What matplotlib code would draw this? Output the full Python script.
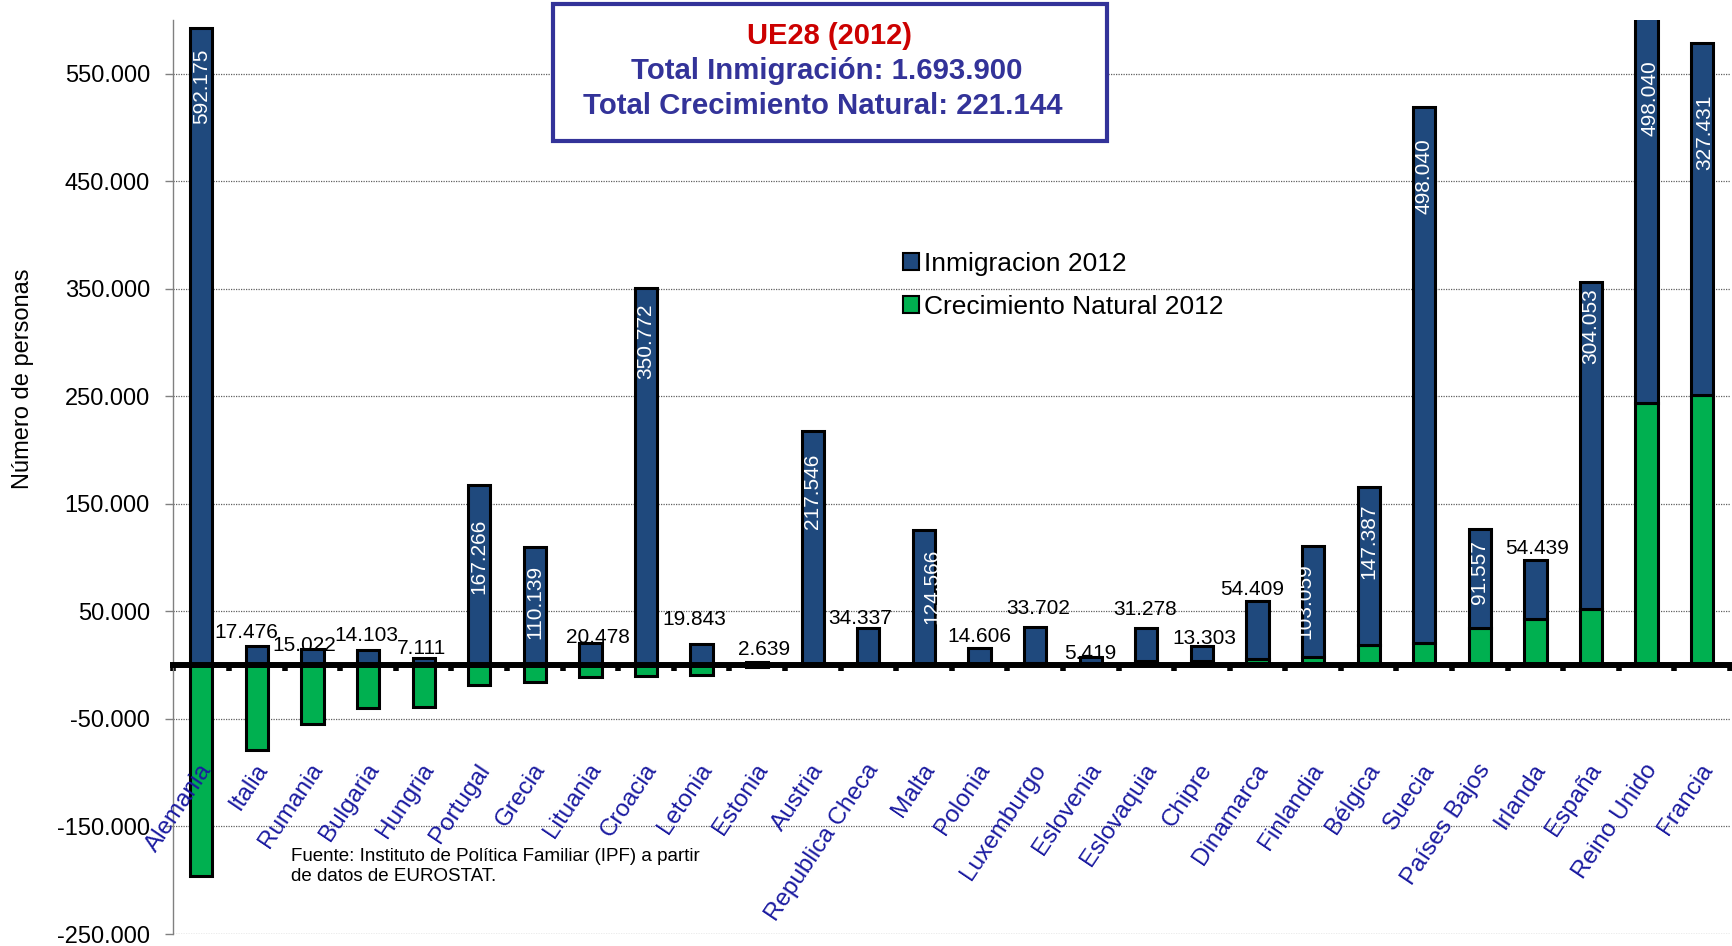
import numpy as np
import matplotlib
matplotlib.use("Agg")
import matplotlib.pyplot as plt
import matplotlib.transforms as mtransforms
from matplotlib.patches import Rectangle, Patch

plt.rcParams['font.family'] = ['Liberation Sans', 'DejaVu Sans']

# ---------------- data ----------------
paises = ["Alemania", "Italia", "Rumania", "Bulgaria", "Hungria", "Portugal", "Grecia",
          "Lituania", "Croacia", "Letonia", "Estonia", "Austria", "Republica Checa",
          "Malta", "Polonia", "Luxemburgo", "Eslovenia", "Eslovaquia", "Chipre",
          "Dinamarca", "Finlandia", "Bélgica", "Suecia", "Países Bajos", "Irlanda",
          "España", "Reino Unido", "Francia"]
inmigracion = [592175, 17476, 15022, 14103, 7111, 167266, 110139, 20478, 350772,
               19843, 2639, 217546, 34337, 124566, 14606, 33702, 5419, 31278,
               13303, 54409, 103059, 147387, 498040, 91557, 54439, 304053,
               498040, 327431]
crecimiento = [-196000, -79000, -55000, -40000, -39000, -18000, -16000, -11000,
               -10000, -9000, -1500, 500, 400, 1000, 1500, 2000, 2000, 3500,
               4300, 5400, 7700, 18600, 20800, 35000, 43400, 52000, 243400,
               251000]
yticks = [-250000, -150000, -50000, 50000, 150000, 250000, 350000, 450000, 550000]
titulo = ["UE28 (2012)", "Total Inmigración: 1.693.900",
          "Total Crecimiento Natural: 221.144"]
series = ["Inmigracion 2012", "Crecimiento Natural 2012"]
fuente = "Fuente: Instituto de Política Familiar (IPF) a partir\nde datos de EUROSTAT."

# ---------------- styles ----------------
BLUE = "#1F497D"
GREEN = "#00B050"
CAT = "#1A1AA0"
NAVY = "#333399"
W, H = 1733, 946

# label nudges (pixels): horizontal labels -> (dx, dy above top); vertical -> (dx, dy below top)
h_nudge = {"Italia": (-11, 14), "Rumania": (-8, 4), "Bulgaria": (-2, 15), "Hungria": (-2, 9),
           "Lituania": (8, 6), "Letonia": (-7, 24), "Estonia": (7, 13),
           "Republica Checa": (-8, 9), "Polonia": (0, 11), "Luxemburgo": (3, 18),
           "Eslovenia": (0, 4), "Eslovaquia": (-1, 18), "Chipre": (2, 8),
           "Dinamarca": (-5, 11), "Irlanda": (2, 11)}
v_nudge = {"Alemania": (0, 20), "Portugal": (0, 33), "Grecia": (0, 18), "Croacia": (0, 16),
           "Austria": (0, 23), "Malta": (8, 18), "Finlandia": (-8, 17), "Bélgica": (0, 17),
           "Suecia": (0, 31), "Países Bajos": (0, 11), "España": (0, 6),
           "Reino Unido": (3, 40), "Francia": (3, 51)}

fig = plt.figure(figsize=(W / 100, H / 100), dpi=100)
ax = fig.add_axes([173.5 / W, 12 / H, (1730 - 173.5) / W, 914 / H])

x = np.arange(len(paises))
inm = np.array(inmigracion)
cre = np.array(crecimiento)
base = np.maximum(cre, 0)

ax.bar(x, cre, width=0.40, color=GREEN, edgecolor="black", linewidth=2.2, zorder=2)
ax.bar(x, inm, bottom=base, width=0.40, color=BLUE, edgecolor="black", linewidth=2.2, zorder=2)

ax.set_xlim(-0.5, len(paises) - 0.5)
ax.set_ylim(-250000, 600000)
ymax = 600000

# axes styling
for s in ("top", "right"):
    ax.spines[s].set_visible(False)
ax.spines["left"].set_color("#808080")
ax.spines["left"].set_linewidth(1.0)
ax.spines["bottom"].set_position(("data", 0))
ax.spines["bottom"].set_linewidth(4.3)
ax.spines["bottom"].set_zorder(3)

ax.set_yticks(yticks)
ax.set_yticklabels([f"{v:,}".replace(",", ".") for v in yticks])
ax.tick_params(axis="y", direction="out", length=6, width=1, color="#808080",
               labelsize=17, pad=11)
ax.set_xticks(np.arange(-0.5, len(paises), 1.0))
ax.tick_params(axis="x", direction="out", length=4, width=4, color="black",
               labelbottom=False)
ax.yaxis.grid(True, linestyle=(0, (1, 1)), color="#606060", linewidth=0.9, zorder=0)
ax.set_axisbelow(True)

# value labels
for i, name in enumerate(paises):
    top = min(base[i] + inm[i], ymax)
    txt = f"{inm[i]:,}".replace(",", ".")
    if name in v_nudge:
        dx, dy = v_nudge[name]
        ax.annotate(txt, xy=(i, top), xytext=(dx, -dy), textcoords="offset pixels",
                    rotation=90, ha="center", va="top", color="white", fontsize=15,
                    zorder=5)
    else:
        dx, dy = h_nudge.get(name, (0, 12))
        ax.annotate(txt, xy=(i, top), xytext=(dx, dy), textcoords="offset pixels",
                    ha="center", va="center", color="black", fontsize=15, zorder=5)

# category labels
trans = mtransforms.blended_transform_factory(ax.transData, ax.transAxes)
for i, name in enumerate(paises):
    ax.text(i + 0.11, 0.184, name, rotation=56, rotation_mode="anchor", ha="right",
            va="center", transform=trans, color=CAT, fontsize=17.5, zorder=6)

# y label
fig.text(23 / W, 1 - 379 / H, "Número de personas", rotation=90, ha="center",
         va="center", fontsize=17)

# title box
fig.patches.append(Rectangle((553 / W, 1 - 141 / H), 554 / W, 137 / H,
                             transform=fig.transFigure, facecolor="white",
                             edgecolor=NAVY, linewidth=3.0, zorder=10))
fig.text(830 / W, 1 - 44 / H, titulo[0], ha="center", va="baseline", color="#CC0000",
         fontsize=21, fontweight="bold", zorder=11)
fig.text(827 / W, 1 - 79 / H, titulo[1], ha="center", va="baseline", color=NAVY,
         fontsize=21.2, fontweight="bold", zorder=11)
fig.text(823 / W, 1 - 114 / H, titulo[2], ha="center", va="baseline", color=NAVY,
         fontsize=21.2, fontweight="bold", zorder=11)

# legend
handles = [Patch(facecolor=BLUE, edgecolor="black", linewidth=1.5, label=series[0]),
           Patch(facecolor=GREEN, edgecolor="black", linewidth=1.5, label=series[1])]
leg = ax.legend(handles=handles, loc="upper left", bbox_to_anchor=(903 / W, 1 - 252 / H),
                bbox_transform=fig.transFigure, frameon=False, fontsize=19,
                handlelength=0.6, handleheight=0.6, handletextpad=0.2,
                labelspacing=0.72, borderpad=0, borderaxespad=0)

# source note
fig.text(291 / W, 1 - 848 / H, fuente, ha="left", va="top", fontsize=13.5,
         linespacing=1.25)

fig.savefig("out.png", dpi=100)
